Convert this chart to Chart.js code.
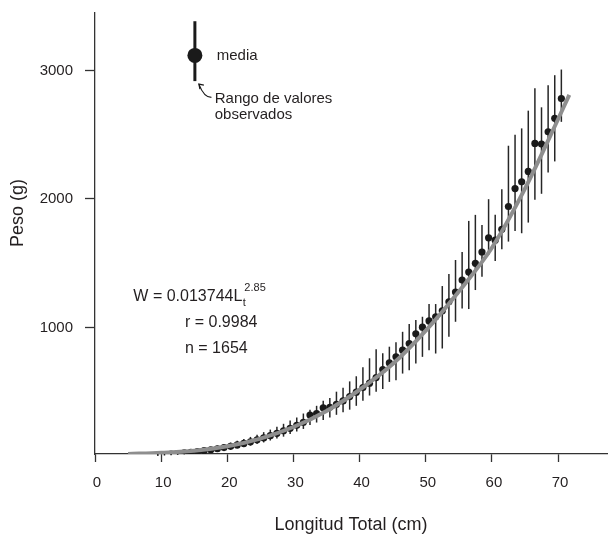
<!DOCTYPE html>
<html>
<head>
<meta charset="utf-8">
<script src="https://cdn.jsdelivr.net/npm/chart.js@4"></script>
<style>
  html, body { margin: 0; padding: 0; background: #fff; }
  #wrap { width: 611px; height: 536px; position: relative; }
</style>
</head>
<body>
<div id="wrap"><canvas id="lwChart"></canvas></div>
<script>
// Longitud total (cm), centro de cada clase
const lengths = [
  9.5, 10.5, 11.5, 12.5, 13.5, 14.5, 15.5, 16.5, 17.5, 18.5,
  19.5, 20.5, 21.5, 22.5, 23.5, 24.5, 25.5, 26.5, 27.5, 28.5,
  29.5, 30.5, 31.5, 32.5, 33.5, 34.5, 35.5, 36.5, 37.5, 38.5,
  39.5, 40.5, 41.5, 42.5, 43.5, 44.5, 45.5, 46.5, 47.5, 48.5,
  49.5, 50.5, 51.5, 52.5, 53.5, 54.5, 55.5, 56.5, 57.5, 58.5,
  59.5, 60.5, 61.5, 62.5, 63.5, 64.5, 65.5, 66.5, 67.5, 68.5,
  69.5, 70.5,
];

// Peso medio (g)
const meanWeight = [
  8, 11, 15, 19, 23, 28, 34, 41, 48, 56,
  65, 75, 86, 97, 110, 126, 140, 158, 176, 196,
  215, 238, 262, 318, 330, 375, 378, 402, 428, 462,
  496, 532, 566, 610, 672, 724, 771, 823, 875, 950,
  1002, 1051, 1083, 1129, 1200, 1275, 1369, 1431, 1499, 1587,
  1697, 1679, 1764, 1941, 2081, 2133, 2214, 2432, 2427, 2523,
  2627, 2781,
];

// Rango de valores observados (g)
const minWeight = [
  0, 3, 5, 8, 12, 15, 20, 25, 30, 35,
  42, 50, 58, 68, 80, 92, 105, 120, 135, 150,
  170, 190, 210, 240, 260, 280, 300, 320, 340, 360,
  390, 430, 470, 500, 520, 576, 589, 641, 667, 719,
  771, 823, 797, 836, 927, 1044, 1148, 1143, 1291, 1395,
  1564, 1517, 1608, 1668, 1751, 1733, 1816, 1993, 2040, 2206,
  2292, 2600,
];
const maxWeight = [
  20, 25, 28, 33, 38, 45, 52, 60, 70, 80,
  92, 104, 118, 132, 148, 165, 185, 205, 228, 250,
  275, 300, 330, 360, 390, 430, 450, 500, 530, 580,
  620, 690, 760, 830, 800, 850, 885, 966, 1026, 1057,
  1083, 1182, 1182, 1322, 1416, 1525, 1587, 1829, 1876, 1798,
  1998, 1876, 2076, 2414, 2500, 2549, 2687, 2861, 2713, 2885,
  2963, 3007,
];

// Curva ajustada W = 0.013744 Lt^2.85
const fitLength = [5, 10, 15, 20, 25, 30, 35, 40, 45, 50, 55, 60, 65, 70, 71.7];
const fitWeight = [15, 25, 40, 75, 135, 225, 350, 515, 715, 975, 1280, 1620, 2080, 2620, 2810];

const xTicks = [0, 10, 20, 30, 40, 50, 60, 70];
const yTicks = [1000, 2000, 3000];

const textColor = "#231f20";
const fontFamily = "'Liberation Sans', Arial, Helvetica, sans-serif";
Chart.defaults.font.family = fontFamily;
Chart.defaults.color = textColor;

// Leyenda "media / Rango de valores observados" en unidades de datos
const keyPos = { x: 15.1, mid: 3117, top: 3383, bottom: 2917 };

// 📏 vertical error bars, drawn under the points
const errorBarPlugin = {
  id: "errorBars",
  beforeDatasetsDraw(chart) {
    const { ctx, scales: { x, y } } = chart;
    ctx.save();
    ctx.strokeStyle = "#262626";
    ctx.lineWidth = 1.5;
    lengths.forEach((len, i) => {
      const px = x.getPixelForValue(len);
      ctx.beginPath();
      ctx.moveTo(px, y.getPixelForValue(minWeight[i]));
      ctx.lineTo(px, y.getPixelForValue(maxWeight[i]));
      ctx.stroke();
    });
    ctx.restore();
  },
};

// 📝 key, equation and y title
const annotationPlugin = {
  id: "annotations",
  afterDraw(chart) {
    const { ctx, scales: { x, y } } = chart;
    ctx.save();
    ctx.fillStyle = textColor;
    ctx.strokeStyle = "#1a1a1a";

    // key bar + dot
    const kx = x.getPixelForValue(keyPos.x);
    ctx.lineWidth = 3;
    ctx.beginPath();
    ctx.moveTo(kx, y.getPixelForValue(keyPos.top));
    ctx.lineTo(kx, y.getPixelForValue(keyPos.bottom));
    ctx.stroke();
    ctx.fillStyle = "#1a1a1a";
    ctx.beginPath();
    ctx.arc(kx, y.getPixelForValue(keyPos.mid), 7.5, 0, Math.PI * 2);
    ctx.fill();

    // arrow to bottom of key bar
    const ax0 = x.getPixelForValue(17.6), ay0 = y.getPixelForValue(2790);
    const ax1 = kx + 4, ay1 = y.getPixelForValue(keyPos.bottom) + 3;
    ctx.lineWidth = 1.2;
    ctx.beginPath();
    ctx.moveTo(ax0, ay0);
    ctx.quadraticCurveTo(ax1 + 5, ay0, ax1, ay1);
    ctx.stroke();
    ctx.beginPath();
    ctx.moveTo(ax1 + 5, ay1 + 1);
    ctx.lineTo(ax1, ay1);
    ctx.lineTo(ax1 + 1, ay1 + 5);
    ctx.stroke();

    ctx.fillStyle = textColor;
    ctx.textBaseline = "middle";
    ctx.textAlign = "left";
    ctx.font = "15px " + fontFamily;
    ctx.fillText("media", x.getPixelForValue(18.4), y.getPixelForValue(keyPos.mid));
    ctx.fillText("Rango de valores", x.getPixelForValue(18.1), y.getPixelForValue(2782));
    ctx.fillText("observados", x.getPixelForValue(18.1), y.getPixelForValue(2657));

    // equation
    ctx.font = "16px " + fontFamily;
    const ex = x.getPixelForValue(5.8), ey = y.getPixelForValue(1237);
    const eqText = "W = 0.013744L";
    ctx.fillText(eqText, ex, ey);
    const ew = ctx.measureText(eqText).width;
    ctx.font = "11px " + fontFamily;
    ctx.fillText("t", ex + ew + 0.5, ey + 6);
    ctx.fillText("2.85", ex + ew + 2, ey - 9);
    ctx.font = "16px " + fontFamily;
    ctx.fillText("r = 0.9984", x.getPixelForValue(13.6), y.getPixelForValue(1034));
    ctx.fillText("n = 1654", x.getPixelForValue(13.6), y.getPixelForValue(839));

    // y title
    ctx.font = "18px " + fontFamily;
    ctx.textAlign = "center";
    ctx.translate(18, 213);
    ctx.rotate(-Math.PI / 2);
    ctx.fillText("Peso (g)", 0, 0);
    ctx.restore();
  },
};

document.addEventListener("DOMContentLoaded", function () {
  new Chart(document.getElementById("lwChart"), {
    type: "scatter",
    data: {
      datasets: [
        {
          type: "line",
          label: "Ajuste",
          data: fitLength.map((len, i) => ({ x: len, y: fitWeight[i] })),
          borderColor: "#8e8e8e",
          borderWidth: 4,
          pointRadius: 0,
          cubicInterpolationMode: "monotone",
          fill: false,
          order: 0,
        },
        {
          label: "media",
          data: lengths.map((len, i) => ({ x: len, y: meanWeight[i] })),
          backgroundColor: "#1a1a1a",
          borderWidth: 0,
          pointRadius: 3.6,
          order: 1,
        },
      ],
    },
    options: {
      responsive: true,
      maintainAspectRatio: false,
      animation: false,
      layout: { padding: { top: 13, right: 0, left: 0, bottom: 0 } },
      plugins: {
        legend: { display: false },
        tooltip: { enabled: false },
      },
      scales: {
        x: {
          type: "linear",
          min: 0,
          max: 77.4,
          afterBuildTicks: (scale) => {
            scale.ticks = xTicks.map((v) => ({ value: v }));
          },
          afterFit: (scale) => {
            scale.height = 82;
            scale.paddingLeft = 0;
            scale.paddingRight = 0;
          },
          border: { display: true, color: "#333", width: 1.3 },
          grid: {
            drawOnChartArea: false,
            drawTicks: true,
            tickLength: 8,
            tickWidth: 1.3,
            tickColor: "#333",
          },
          ticks: {
            font: { size: 15 },
            color: textColor,
            padding: 12,
            labelOffset: 2,
            maxRotation: 0,
            callback: (v) => String(v),
          },
          title: {
            display: true,
            text: "Longitud Total (cm)",
            font: { size: 18 },
            color: textColor,
            padding: { top: 0, bottom: 0 },
          },
        },
        y: {
          type: "linear",
          min: 15,
          max: 3447,
          afterBuildTicks: (scale) => {
            scale.ticks = yTicks.map((v) => ({ value: v }));
          },
          afterFit: (scale) => {
            scale.width = 95;
            scale.paddingTop = 0;
            scale.paddingBottom = 0;
          },
          border: { display: true, color: "#333", width: 1.3 },
          grid: {
            drawOnChartArea: false,
            drawTicks: true,
            tickLength: 10,
            tickWidth: 1.3,
            tickColor: "#333",
          },
          ticks: {
            font: { size: 15 },
            color: textColor,
            padding: 12,
            callback: (v) => String(v),
          },
        },
      },
    },
    plugins: [errorBarPlugin, annotationPlugin],
  });
});
</script>
</body>
</html>
